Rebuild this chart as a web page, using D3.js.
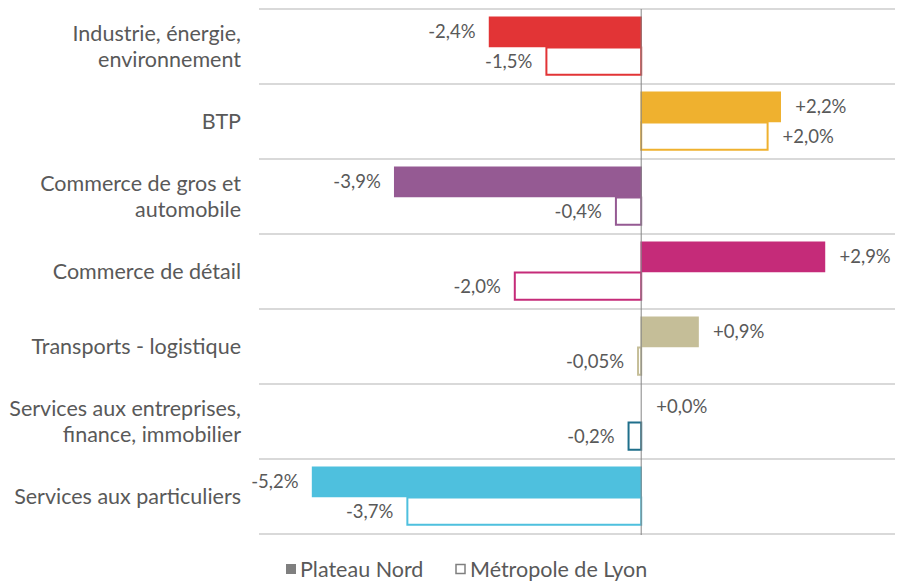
<!DOCTYPE html>
<html>
<head>
<meta charset="utf-8">
<script src="https://cdn.jsdelivr.net/npm/d3@7"></script>
<style>
  html, body { margin: 0; padding: 0; background: #fff; }
  svg { display: block; font-family: Lato, "Open Sans", sans-serif; }
</style>
</head>
<body>
<svg id="chart" width="906" height="582"></svg>
<script>
// Sectors (label lines) and evolution rates in %
const categories = [
  ["Industrie, énergie,", "environnement"],
  ["BTP"],
  ["Commerce de gros et", "automobile"],
  ["Commerce de détail"],
  ["Transports - logistique"],
  ["Services aux entreprises,", "finance, immobilier"],
  ["Services aux particuliers"]
];
const seriesNames = ["Plateau Nord", "Métropole de Lyon"];
const plateauNord = [-2.4, 2.2, -3.9, 2.9, 0.9, 0.0, -5.2];
const metropoleLyon = [-1.5, 2.0, -0.4, -2.0, -0.05, -0.2, -3.7];
const sectorColors = ["#e23436", "#efb12f", "#955a93", "#c52b79", "#c5be98", "#1f6f8b", "#4ec0de"];
const xDomain = [-6, 4];

const svg = d3.select("#chart");
const textColor = "#595959";

const keys = categories.map((c, i) => i);
const y = d3.scaleBand().domain(keys).range([9, 534]).paddingInner(0.22).paddingOuter(0.11);
const ySub = d3.scaleBand().domain([0, 1]).range([0, y.bandwidth()]);
const x = d3.scaleLinear().domain(xDomain).range([262, 894]);

// Horizontal separators between sectors
const step = y.step();
const bounds = d3.range(categories.length + 1).map(i => 9 + i * step);
svg.append("g").selectAll("line").data(bounds).join("line")
  .attr("x1", 259).attr("x2", 895)
  .attr("y1", d => d).attr("y2", d => d)
  .attr("stroke", "#d9d9d9").attr("stroke-width", 2);

const rows = categories.map((c, i) => ({
  i, lines: c, color: sectorColors[i],
  vals: [plateauNord[i], metropoleLyon[i]]
}));

function fmt(v) {
  const digits = Math.abs(v) > 0 && Math.abs(v) < 0.1 ? 2 : 1;
  const s = Math.abs(v).toFixed(digits).replace(".", ",");
  return (v < 0 ? "-" : "+") + s + "%";
}

const g = svg.append("g");
rows.forEach(r => {
  r.vals.forEach((v, s) => {
    const y0 = y(r.i) + ySub(s);
    const h = ySub.bandwidth();
    const x0 = Math.min(x(0), x(v));
    const w = Math.abs(x(v) - x(0));
    if (s === 0) {
      g.append("rect")
        .attr("x", x0).attr("y", y0).attr("width", w).attr("height", h)
        .attr("fill", r.color).attr("stroke", r.color).attr("stroke-width", 1.5);
    } else {
      g.append("rect")
        .attr("x", x0).attr("y", y0 + 1).attr("width", w).attr("height", h - 2)
        .attr("fill", "#fff").attr("stroke", r.color).attr("stroke-width", 2);
    }
    const neg = v < 0;
    g.append("text")
      .attr("x", neg ? x(v) - 14 : x(v) + 15)
      .attr("y", y0 + h / 2)
      .attr("dy", "0.35em")
      .attr("text-anchor", neg ? "end" : "start")
      .attr("fill", textColor)
      .attr("font-size", 18.5)
      .text(fmt(v));
  });
});

// Zero axis
svg.append("line")
  .attr("x1", x(0)).attr("x2", x(0))
  .attr("y1", 9).attr("y2", 535)
  .attr("stroke", "#868686").attr("stroke-width", 1);

// Sector labels
const lab = svg.append("g").attr("fill", textColor).attr("font-size", 21.5).attr("text-anchor", "end");
rows.forEach(r => {
  const cy = y(r.i) + y.bandwidth() / 2;
  const n = r.lines.length;
  const lh = 26;
  const t = lab.append("text").attr("x", 241);
  r.lines.forEach((line, k) => {
    t.append("tspan")
      .attr("x", 241)
      .attr("y", cy + (k - (n - 1) / 2) * lh)
      .attr("dy", "0.35em")
      .text(line);
  });
});

// Legend
const leg = svg.append("g").attr("font-size", 21.5).attr("fill", textColor);
const legY = 569;
leg.append("rect").attr("x", 286).attr("y", legY - 5).attr("width", 10).attr("height", 10).attr("fill", "#7f7f7f");
leg.append("text").attr("x", 300).attr("y", legY).attr("dy", "0.35em").text(seriesNames[0]);
leg.append("rect").attr("x", 456).attr("y", legY - 4.5).attr("width", 9).attr("height", 9)
  .attr("fill", "#fff").attr("stroke", "#7f7f7f").attr("stroke-width", 1.5);
leg.append("text").attr("x", 470).attr("y", legY).attr("dy", "0.35em").text(seriesNames[1]);
</script>
</body>
</html>
